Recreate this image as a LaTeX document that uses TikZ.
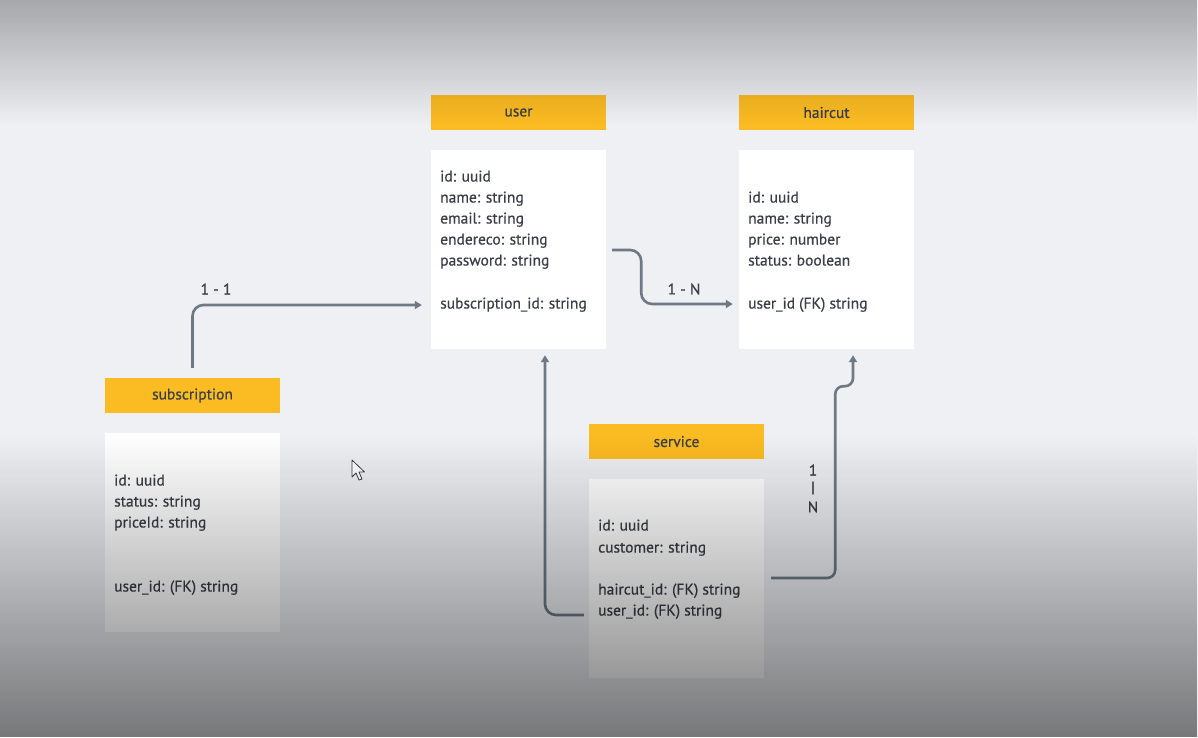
\documentclass[tikz,border=0pt]{standalone}
\usepackage{fontspec}
\setmainfont{PT Sans}[BoldFont={PT Sans}, BoldFeatures={FakeBold=0.6}]
\usetikzlibrary{arrows.meta,calc,fadings}
\definecolor{bg}{HTML}{EEF0F4}
\definecolor{hdr}{HTML}{FBBB22}
\definecolor{txt}{HTML}{3A3F47}
\definecolor{conn}{HTML}{6E7985}
\tikzfading[name=fadetop, top color=transparent!70, bottom color=transparent!100]
\tikzfading[name=fadebottom, top color=transparent!100, middle color=transparent!84, bottom color=transparent!50]
\begin{document}
\begin{tikzpicture}[x=1pt,y=-1pt,
  tfont/.style={font=\bfseries\fontsize{15.5}{18}\selectfont},
  hdrbox/.style={fill=hdr, minimum width=175pt, minimum height=35pt, inner sep=0pt, text=txt, tfont},
  bodybox/.style={fill=white, minimum width=175pt, minimum height=199pt, inner sep=0pt},
  fld/.style={anchor=mid west, inner sep=0pt, text=txt, tfont},
  lbl/.style={inner sep=0pt, text=txt, tfont},
  link/.style={draw=conn, line width=2.6pt, rounded corners=11pt, -{Triangle[length=7pt,width=8pt]}},
  cursor/.style={fill=white, draw=txt, line width=0.8pt, line join=round}
]
\useasboundingbox (0,0) rectangle (1198,737);
\fill[bg] (0,0) rectangle (1198,737);

% user
\node[hdrbox] (userh) at (518.5,112.5) {\raisebox{-1pt}{user}};
\node[bodybox] (userb) at (518.5,249.5) {};
\foreach \t/\y [count=\i] in {id: uuid/176, name: string/197, email: string/218, endereco: string/239, password: string/260, subscription\_id: string/303}
  \node[fld] (uf\i) at (440,\y+3) {\t};

% haircut
\node[hdrbox] (haich) at (826.5,112.5) {\raisebox{-1pt}{haircut}};
\node[bodybox] (haicb) at (826.5,249.5) {};
\foreach \t/\y [count=\i] in {id: uuid/197, name: string/218, price: number/239, status: boolean/260, user\_id (FK) string/303}
  \node[fld] (hf\i) at (748,\y+3) {\t};

% subscription
\node[hdrbox] (subh) at (192.5,395.5) {\raisebox{-1pt}{subscription}};
\node[bodybox] (subb) at (192.5,532.5) {};
\foreach \t/\y [count=\i] in {id: uuid/480, status: string/501, priceId: string/522, user\_id: (FK) string/586}
  \node[fld] (sf\i) at (114,\y+3) {\t};

% service
\node[hdrbox] (servh) at (676.5,441.5) {\raisebox{-1pt}{service}};
\node[bodybox] (servb) at (676.5,578.5) {};
\foreach \t/\y [count=\i] in {id: uuid/525, customer: string/547, haircut\_id: (FK) string/589, user\_id: (FK) string/610}
  \node[fld] (vf\i) at (598,\y+3) {\t};

% connectors
\coordinate (c1s) at ($(subh.north)+(0,-10)$);
\coordinate (c1e) at ($(userb.west)+(-9,55.5)$);
\draw[link] (c1s) |- (c1e);
\node[lbl] (l1) at (216,289) {1 - 1};

\coordinate (c2s) at ($(userb.east)+(6,0.5)$);
\coordinate (c2e) at ($(haicb.west)+(-6,54.5)$);
\draw[link] (c2s) -- ++(29,0) |- (c2e);
\node[lbl] (l2) at (684,289) {1 - N};

\coordinate (c3s) at ($(servb.west)+(-5,36.5)$);
\coordinate (c3e) at ($(userb.south)+(26.5,6)$);
\draw[link] (c3s) -| (c3e);

\coordinate (c4s) at ($(servb.east)+(7,-0.5)$);
\coordinate (c4e) at ($(haicb.south)+(26.5,6)$);
\draw[link, rounded corners=8pt] (c4s) -- ++(64,0) |- ($(c4e)+(0,31)$) -- (c4e);
\node[lbl] (l4a) at (813,470) {1};
\node[lbl] (l4b) at (813,488) {|};
\node[lbl] (l4c) at (813,507) {N};

% mouse cursor
\draw[cursor] (352,460) -- (352,477) -- (356,473) -- (359,480) -- (362,479) -- (359,472) -- (364.5,472) -- cycle;

% vignette overlays
\fill[black, path fading=fadetop] (0,0) rectangle (1198,125);
\fill[black, path fading=fadebottom] (0,435) rectangle (1198,737);
\end{tikzpicture}
\end{document}
